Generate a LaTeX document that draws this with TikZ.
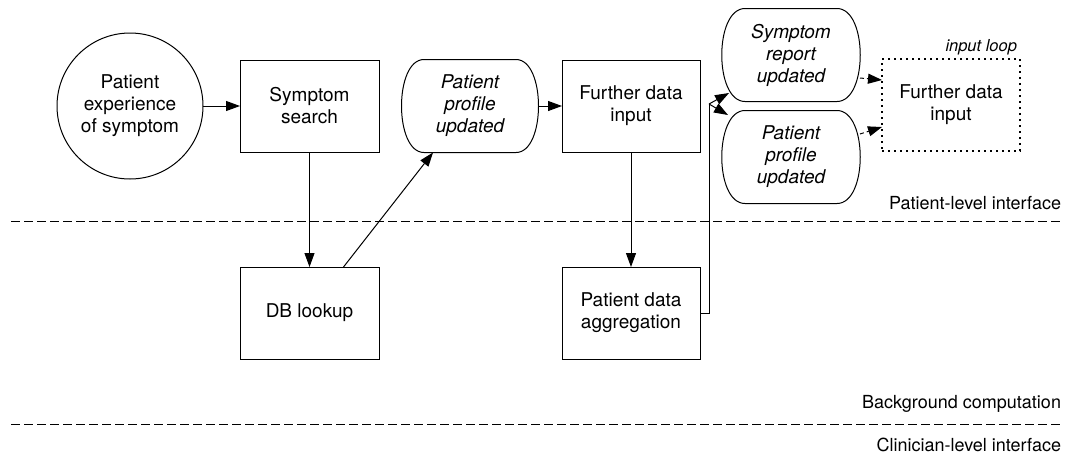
\documentclass[tikz,border=0pt]{standalone}
\usepackage{fontspec}
\setmainfont{TeX Gyre Heros}
\usetikzlibrary{positioning,arrows.meta}

\begin{document}
\begin{tikzpicture}[x=1pt, y=1pt, line width=1pt,
    font=\fontsize{19}{22}\selectfont,
    every node/.style = {align=center, inner sep=0pt, outer sep=0pt},
    procbox/.style = {rectangle, draw,
                    minimum width=139pt, minimum height=92pt},
    storebox/.style = {rectangle,
                    minimum width=136pt, minimum height=93pt,
                    font=\fontsize{19}{22}\selectfont\itshape},
    startcirc/.style = {circle, draw, minimum size=146pt},
    flow/.style = {-{Triangle[length=14pt,width=10pt]}},
    layer/.style = {dashed, dash pattern=on 9pt off 4pt},
    lbl/.style = {anchor=east, font=\fontsize{18}{21}\selectfont}
                            ]
    \useasboundingbox (0,0) rectangle (1066,-456);

    % patient-level row
    \node (exp) [startcirc] at (130,-106) {Patient\\ experience\\ of symptom};
    \node (search) [procbox, right=37pt of exp] {Symptom\\ search};
    \node (prof) [storebox, right=23pt of search] {Patient\\ profile\\ updated};
    \node (further) [procbox, minimum width=138pt,
            right=24pt of prof] {Further data\\ input};

    % background computation row
    \node (lookup) [procbox, below=115pt of search] {DB lookup};
    \node (aggr) [procbox, minimum width=138pt,
            below=115pt of further] {Patient data\\ aggregation};

    % updated records and loop
    \node (report) [storebox, minimum width=138pt] at (791,-55) {Symptom\\ report\\ updated};
    \node (prof2) [storebox, minimum width=138pt] at (791,-157) {Patient\\ profile\\ updated};
    \node (loop) [procbox, minimum width=138pt, line width=1.3pt,
            dash pattern=on 2pt off 4pt] at (951,-105) {Further data\\ input};
    \node (looplbl) [anchor=south east, xshift=-3pt, yshift=4pt,
            font=\fontsize{16.5}{19}\selectfont\itshape] at (loop.north east) {input loop};

    % outline of the stored data shapes
    \foreach \n in {prof,report,prof2}
        \draw ([xshift=-46pt]\n.north) -- ([xshift=46pt]\n.north)
            .. controls ([xshift=8pt]\n.north east) and ([xshift=8pt]\n.south east) .. ([xshift=46pt]\n.south)
            -- ([xshift=-46pt]\n.south)
            .. controls ([xshift=-8pt]\n.south west) and ([xshift=-8pt]\n.north west) .. cycle;

    % layers
    \coordinate (l1a) at (11,-221);
    \coordinate (l1b) at (1062,-221);
    \coordinate (l2a) at (11,-424);
    \coordinate (l2b) at (1062,-424);
    \draw[layer] (l1a) -- (l1b);
    \draw[layer] (l2a) -- (l2b);
    \node (pli) [lbl] at (1061,-203) {Patient-level interface};
    \node (bgc) [lbl] at (1061,-404) {Background computation};
    \node (cli) [lbl] at (1061,-445) {Clinician-level interface};

    % connectors
    \draw[flow] (exp) -- (search);
    \draw[flow] (search) -- (lookup);
    \draw[flow] ([xshift=34pt]lookup.north) -- ([xshift=-37pt]prof.south);
    \draw[flow] (prof) -- (further);
    \draw[flow] (further) -- (aggr);
    \coordinate (split) at (709,-104);
    \draw (aggr.east) -| (split);
    \draw[flow] (split) -- ([shift={(7pt,8.5pt)}]report.south west);
    \draw[flow] (split) -- ([shift={(6pt,-4.5pt)}]prof2.north west);
    \draw[flow, dash pattern=on 4pt off 3pt] ([yshift=-23pt]report.east) -- ([yshift=25pt]loop.west);
    \draw[flow, dash pattern=on 4pt off 3pt] ([yshift=23pt]prof2.east) -- ([yshift=-22pt]loop.west);
\end{tikzpicture}
\end{document}
